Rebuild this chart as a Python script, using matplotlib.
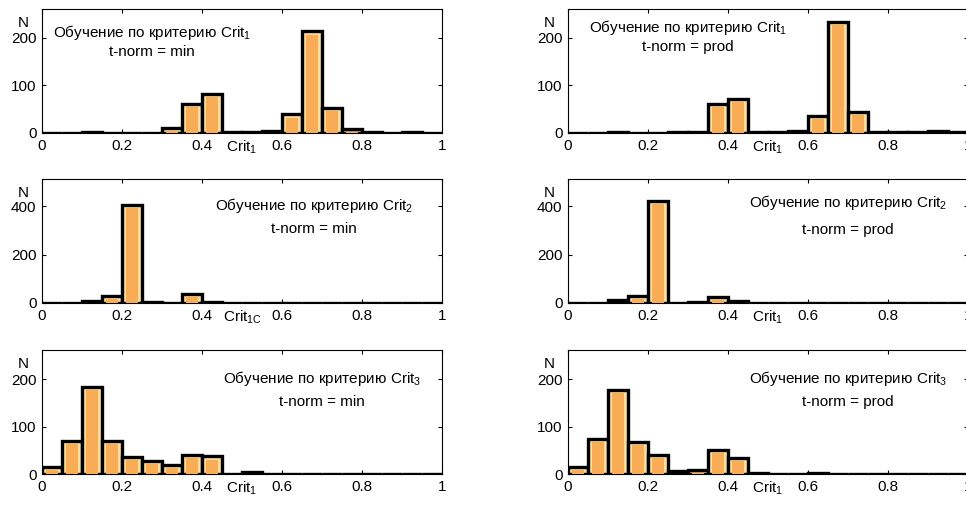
import numpy as np
import matplotlib
matplotlib.use("Agg")
import matplotlib.pyplot as plt

plt.rcParams['font.family'] = ['Liberation Sans', 'DejaVu Sans']
plt.rcParams['mathtext.default'] = 'regular'

# bin edges (width 0.05) from 0 to 1
bin_edges = [i * 0.05 for i in range(21)]

# counts per bin
crit1_min = [1, 1, 3, 1, 0, 0, 11, 60, 82, 2, 2, 4, 39, 213, 53, 8, 2, 1, 3, 0]
crit1_prod = [1, 1, 2, 1, 1, 2, 2, 60, 71, 3, 3, 5, 36, 232, 44, 3, 2, 2, 4, 2]
crit2_min = [1, 2, 10, 30, 403, 4, 1, 39, 5, 1, 0, 2, 1, 0, 0, 0, 0, 0, 0, 0]
crit2_prod = [0, 2, 14, 30, 420, 2, 3, 24, 8, 0, 0, 0, 0, 0, 0, 0, 0, 0, 0, 0]
crit3_min = [15, 70, 184, 70, 36, 27, 19, 41, 37, 1, 4, 0, 0, 0, 0, 0, 0, 0, 0, 0]
crit3_prod = [15, 75, 178, 67, 41, 7, 9, 51, 34, 3, 1, 1, 2, 1, 0, 0, 0, 0, 0, 0]

panels = [
    # data, title subscript, tnorm, xlabel, ylim, yticks, text x, text y1, text y2
    (crit1_min, '1', 'min', 'Crit$_1$', 260, [0, 100, 200], 0.275, 0.81, 0.65),
    (crit1_prod, '1', 'prod', 'Crit$_1$', 260, [0, 100, 200], 0.30, 0.85, 0.69),
    (crit2_min, '2', 'min', 'Crit$_{1C}$', 512, [0, 200, 400], 0.68, 0.79, 0.60),
    (crit2_prod, '2', 'prod', 'Crit$_1$', 512, [0, 200, 400], 0.70, 0.81, 0.59),
    (crit3_min, '3', 'min', 'Crit$_1$', 262, [0, 100, 200], 0.70, 0.77, 0.58),
    (crit3_prod, '3', 'prod', 'Crit$_1$', 262, [0, 100, 200], 0.70, 0.77, 0.58),
]

xticks = [0, 0.2, 0.4, 0.6, 0.8, 1]
xticklabels = ['0', '0.2', '0.4', '0.6', '0.8', '1']

fig = plt.figure(figsize=(9.66, 5.08), dpi=100)
W, H = 966.0, 508.0
lefts = [42, 568]
bottoms = [133, 303, 474]
aw, ah = 400, 124

edges = np.array(bin_edges)
centers = (edges[:-1] + edges[1:]) / 2
width = edges[1] - edges[0]

for i, (data, sub, tn, xl, ytop, yt, tx, ty1, ty2) in enumerate(panels):
    r, c = divmod(i, 2)
    ax = fig.add_axes([lefts[c] / W, 1 - bottoms[r] / H, aw / W, ah / H])
    vals = np.array(data, dtype=float)
    ax.bar(centers, vals, width=width, facecolor='#FCDD9C', edgecolor='black',
           linewidth=2.4, zorder=2)
    pad = ytop * 0.025
    inner = np.clip(vals - pad, 0, None)
    ax.bar(centers, inner, width=width * 0.62, facecolor='#F8AC55',
           edgecolor='none', linewidth=0, zorder=3)
    ax.set_xlim(0, 1)
    ax.set_ylim(0, ytop)
    ax.set_xticks(xticks)
    ax.set_xticklabels(xticklabels)
    ax.set_yticks(yt)
    ax.tick_params(direction='in', length=3, width=0.8, top=True, right=True,
                   labelsize=11, pad=4)
    for s in ax.spines.values():
        s.set_linewidth(0.8)
    ax.text(-0.047, 0.89, 'N', transform=ax.transAxes, ha='center', va='center',
            fontsize=11)
    ax.text(0.5, -0.115, xl, transform=ax.transAxes, ha='center', va='center',
            fontsize=11)
    ax.text(tx, ty1, 'Обучение по критерию Crit$_{%s}$' % sub, transform=ax.transAxes,
            ha='center', va='center', fontsize=11)
    ax.text(tx, ty2, 't-norm = %s' % tn, transform=ax.transAxes,
            ha='center', va='center', fontsize=11)

fig.savefig('out.png', dpi=100)
